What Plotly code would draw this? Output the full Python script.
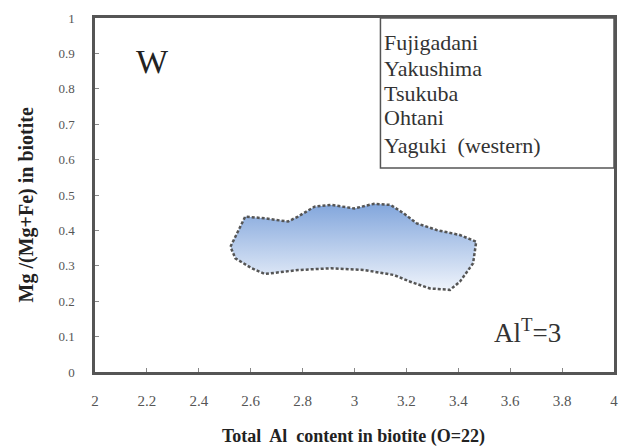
import plotly.graph_objects as go

# Field outline (Total Al vs Mg/(Mg+Fe))
field_x = [2.522, 2.579, 2.655, 2.744, 2.782, 2.846, 2.910, 2.999, 3.075, 3.139,
           3.190, 3.240, 3.317, 3.406, 3.469, 3.457, 3.406, 3.368, 3.291, 3.215,
           3.152, 3.037, 2.910, 2.782, 2.655, 2.604, 2.541, 2.522]
field_y = [0.354, 0.439, 0.434, 0.425, 0.439, 0.467, 0.472, 0.462, 0.475, 0.472,
           0.448, 0.420, 0.401, 0.387, 0.368, 0.307, 0.255, 0.232, 0.236, 0.255,
           0.274, 0.288, 0.293, 0.288, 0.277, 0.293, 0.321, 0.354]

localities = ["Fujigadani", "Yakushima", "Tsukuba", "Ohtani", "Yaguki  (western)"]

x_ticks = [2, 2.2, 2.4, 2.6, 2.8, 3, 3.2, 3.4, 3.6, 3.8, 4]
y_ticks = [0, 0.1, 0.2, 0.3, 0.4, 0.5, 0.6, 0.7, 0.8, 0.9, 1]

serif = "Liberation Serif"

fig = go.Figure()
fig.add_trace(go.Scatter(
    x=field_x, y=field_y, mode="lines", fill="toself",
    fillgradient=dict(type="vertical",
                      colorscale=[[0, "#eef3fb"], [1, "#82a6dc"]]),
    line=dict(color="#555555", width=2.5, dash="3px,2px"),
    hoverinfo="skip", showlegend=False,
))

fig.update_xaxes(
    range=[2, 4], tickvals=x_ticks, ticktext=[f"{v:g}" for v in x_ticks],
    showgrid=False, zeroline=False, showline=True, linecolor="#555555", linewidth=2.5,
    mirror=True, ticks="inside", ticklen=4, tickcolor="#888888",
    tickfont=dict(family=serif, size=15, color="#555555"), ticklabelstandoff=13,
)
fig.update_yaxes(
    range=[0, 1], tickvals=y_ticks, ticktext=[f"{v:g}" for v in y_ticks],
    showgrid=False, zeroline=False, showline=True, linecolor="#555555", linewidth=2.5,
    mirror=True, ticks="inside", ticklen=4, tickcolor="#888888",
    tickfont=dict(family=serif, size=13, color="#555555"), ticklabelstandoff=15,
)

shapes = [dict(type="rect", xref="paper", yref="paper", x0=0.55, x1=1.0, y0=0.576, y1=1.0,
               line=dict(color="#555555", width=1.5), fillcolor="rgba(0,0,0,0)")]

annotations = []
line_px = [43, 68, 93, 118, 145]
for name, py in zip(localities, line_px):
    annotations.append(dict(
        xref="paper", yref="paper", x=(384 - 95) / 522, y=(372 - py) / 354,
        xanchor="left", yanchor="middle", text=name, showarrow=False,
        font=dict(family=serif, size=22, color="#333333"),
    ))
annotations += [
    dict(xref="paper", yref="paper", x=(153 - 95) / 522, y=(372 - 61) / 354,
         text="W", showarrow=False, xanchor="center", yanchor="middle",
         font=dict(family=serif, size=34, color="#222222")),
    dict(xref="paper", yref="paper", x=(530 - 95) / 522, y=(372 - 331) / 354,
         text="Al<sup>T</sup>=3", showarrow=False, xanchor="center", yanchor="middle",
         font=dict(family=serif, size=27, color="#333333")),
    dict(xref="paper", yref="paper", x=(355 - 95) / 522, y=-(436 - 372) / 354,
         text="<b>Total  Al  content in biotite (O=22)</b>", showarrow=False,
         xanchor="center", yanchor="middle",
         font=dict(family=serif, size=18, color="#222222")),
    dict(xref="paper", yref="paper", x=-(95 - 26) / 522, y=(372 - 205) / 354,
         text="<b>Mg /(Mg+Fe) in biotite</b>", showarrow=False, textangle=-90,
         xanchor="center", yanchor="middle",
         font=dict(family=serif, size=20, color="#222222")),
]

fig.update_layout(
    width=619, height=446,
    margin=dict(l=95, r=2, t=18, b=74),
    paper_bgcolor="white", plot_bgcolor="white",
    shapes=shapes, annotations=annotations, showlegend=False,
)

fig.write_html("out.html")
